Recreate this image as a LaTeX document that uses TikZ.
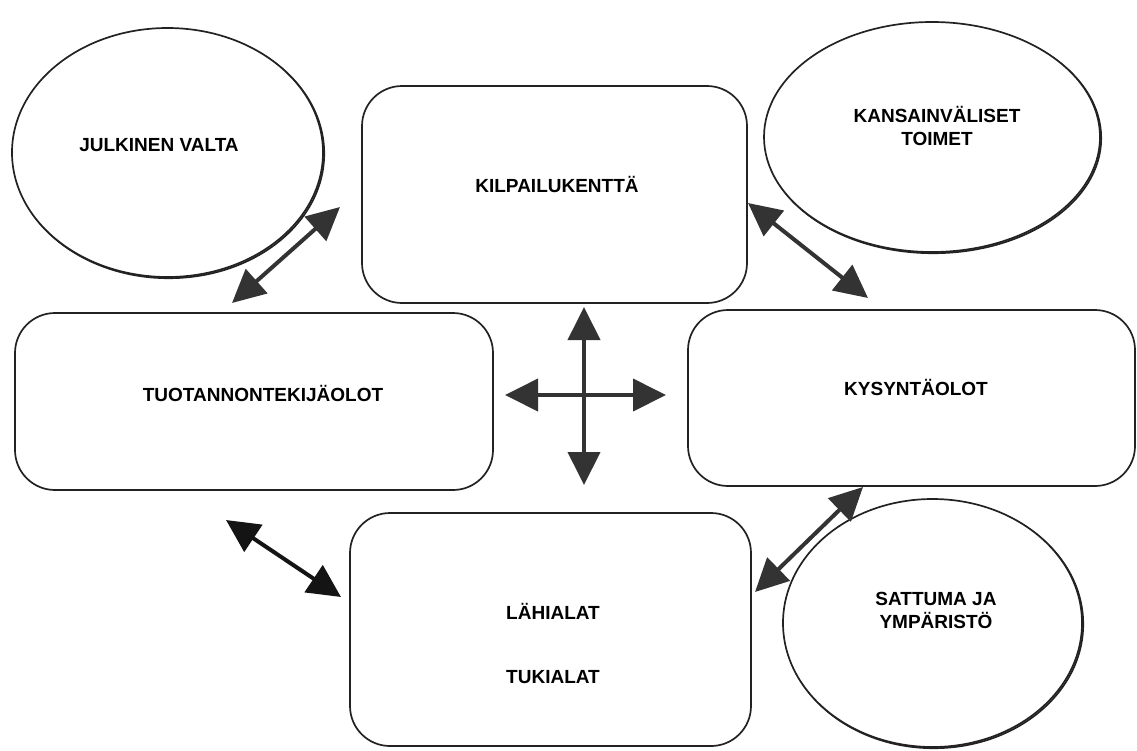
\documentclass[tikz,border=0pt]{standalone}
\usepackage{fontspec}
\setmainfont{Liberation Sans}
\usetikzlibrary{shapes.geometric,arrows.meta}

\definecolor{ink}{HTML}{222222}
\definecolor{arrowgray}{HTML}{333333}
\definecolor{arrowdark}{HTML}{141414}

\tikzset{
  oval/.style={ellipse, draw=ink, line width=1.7pt, fill=white, inner sep=0pt},
  ovalshade/.style={ellipse, draw=ink, line width=1.7pt, inner sep=0pt},
  roundbox/.style={rectangle, rounded corners=40pt, draw=ink, line width=1.7pt, fill=white, inner sep=0pt},
  caption/.style={font=\bfseries\fontsize{19}{23}\selectfont, text=black, align=center, inner sep=0pt},
  twoway/.style={line width=4pt, draw=#1,
    {Triangle[length=33pt,width=32pt,fill=#1]}-{Triangle[length=33pt,width=32pt,fill=#1]}},
  twoway/.default=arrowgray
}

\begin{document}
\begin{tikzpicture}[x=1pt, y=-1pt]
  \useasboundingbox (0,0) rectangle (1137,750);

  % ellipses, each with a slightly offset outline for a heavier lower-right rim
  \node[ovalshade, minimum width=311pt, minimum height=249pt] at (168.7,153.7) {};
  \node[oval, minimum width=311pt, minimum height=249pt] (jv) at (167.5,152.5) {};

  \node[ovalshade, minimum width=336pt, minimum height=230pt] at (933.2,138.2) {};
  \node[oval, minimum width=336pt, minimum height=230pt] (kv) at (932,137) {};

  \node[ovalshade, minimum width=299pt, minimum height=248pt] at (933.7,624.2) {};
  \node[oval, minimum width=299pt, minimum height=248pt] (sy) at (932.5,623) {};

  % rounded boxes
  \node[roundbox, minimum width=385pt, minimum height=217pt] (kp) at (554.5,194.5) {};
  \node[roundbox, minimum width=478pt, minimum height=177pt] (to) at (254,401.5) {};
  \node[roundbox, minimum width=447pt, minimum height=176pt] (ky) at (911.5,398) {};
  \node[roundbox, minimum width=401pt, minimum height=233pt] (la) at (550.5,629.5) {};

  % labels
  \node[caption] (jvt) at (159,145) {JULKINEN VALTA};
  \node[caption] (kpt) at (557,184) {KILPAILUKENTTÄ};
  \node[caption] (kvt) at (937,126) {KANSAINVÄLISET\\TOIMET};
  \node[caption] (tot) at (263,393) {TUOTANNONTEKIJÄOLOT};
  \node[caption] (kyt) at (916,387) {KYSYNTÄOLOT};
  \node[caption] (lat) at (553,611) {LÄHIALAT};
  \node[caption] (tut) at (553,677) {TUKIALAT};
  \node[caption] (syt) at (936,610) {SATTUMA JA\\YMPÄRISTÖ};

  % arrow end points
  \coordinate (jvA) at (232,303);
  \coordinate (jvB) at (340,207);
  \coordinate (kvA) at (748,203);
  \coordinate (kvB) at (868,298);
  \coordinate (laA) at (226,520);
  \coordinate (laB) at (341,597);
  \coordinate (syA) at (755,592);
  \coordinate (syB) at (863,487);
  \coordinate (up) at (584,307);
  \coordinate (down) at (584,485);
  \coordinate (left) at (505,395);
  \coordinate (right) at (666,395);

  % two-way arrows
  \draw[twoway] (jvA) -- (jvB);
  \draw[twoway] (kvA) -- (kvB);
  \draw[twoway=arrowdark] (laA) -- (laB);
  \draw[twoway] (syA) -- (syB);
  \draw[twoway] (down) -- (up);
  \draw[twoway] (left) -- (right);
\end{tikzpicture}
\end{document}
